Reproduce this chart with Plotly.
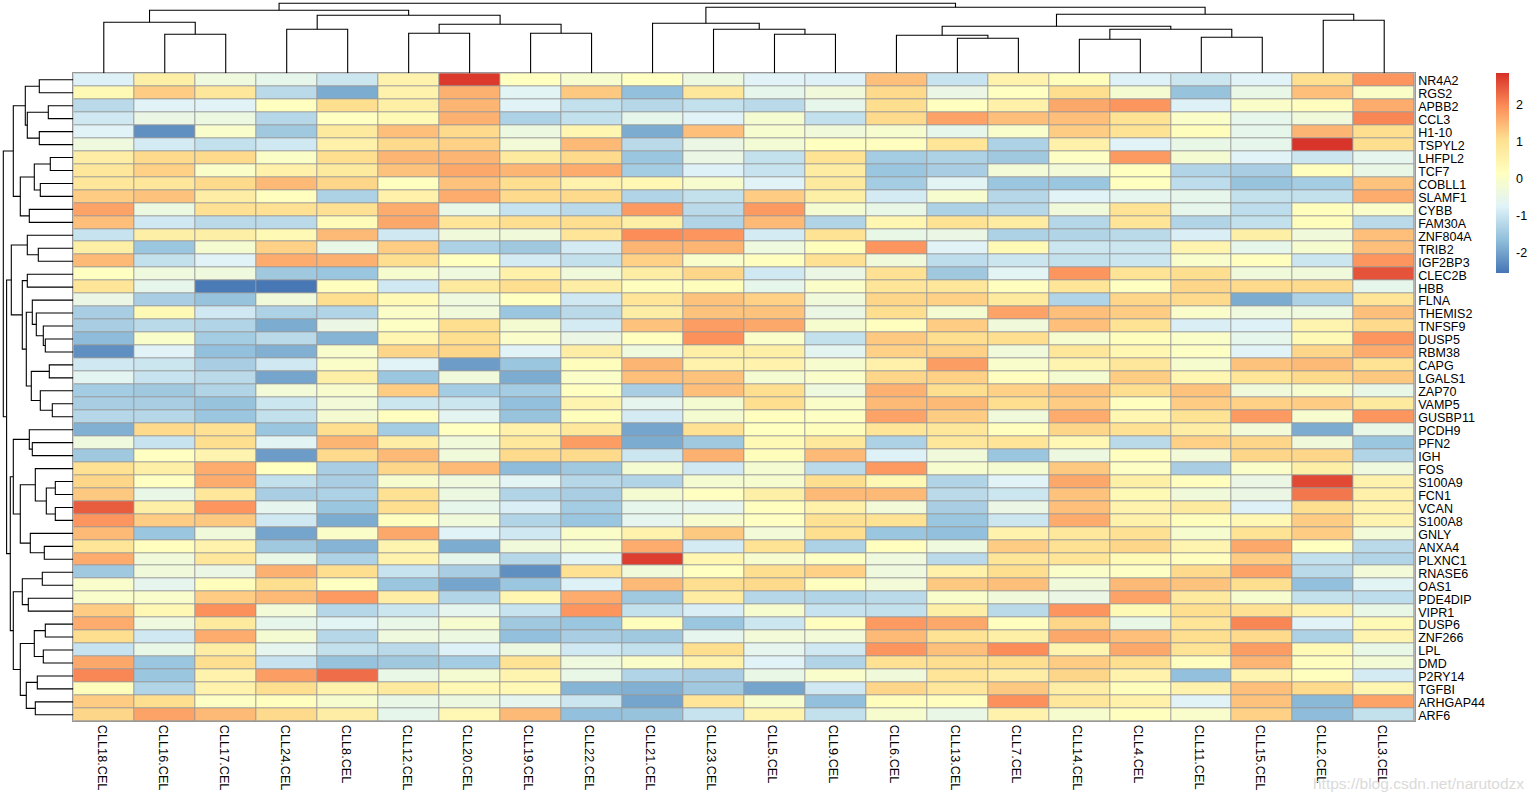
import plotly.graph_objects as go

samples = ["CLL18.CEL","CLL16.CEL","CLL17.CEL","CLL24.CEL","CLL8.CEL","CLL12.CEL","CLL20.CEL","CLL19.CEL","CLL22.CEL","CLL21.CEL","CLL23.CEL","CLL5.CEL","CLL9.CEL","CLL6.CEL","CLL13.CEL","CLL7.CEL","CLL14.CEL","CLL4.CEL","CLL11.CEL","CLL15.CEL","CLL2.CEL","CLL3.CEL"]
genes = ["NR4A2","RGS2","APBB2","CCL3","H1-10","TSPYL2","LHFPL2","TCF7","COBLL1","SLAMF1","CYBB","FAM30A","ZNF804A","TRIB2","IGF2BP3","CLEC2B","HBB","FLNA","THEMIS2","TNFSF9","DUSP5","RBM38","CAPG","LGALS1","ZAP70","VAMP5","GUSBP11","PCDH9","PFN2","IGH","FOS","S100A9","FCN1","VCAN","S100A8","GNLY","ANXA4","PLXNC1","RNASE6","OAS1","PDE4DIP","VIPR1","DUSP6","ZNF266","LPL","DMD","P2RY14","TGFBI","ARHGAP44","ARF6"]

NR4A2 = [-.8,.6,-.35,-.55,-1.0,.5,2.75,.13,-.1,.1,-.4,-.75,-.8,1.4,-1.05,.5,.2,-.8,-1.0,-.75,1.05,1.85]
RGS2 = [.3,1.25,.85,-1.2,-1.9,.5,1.55,-.7,1.3,-1.65,.85,-.55,-.3,1.1,-.45,.1,1.05,-.15,-1.6,-.5,1.4,.02]
APBB2 = [-1.2,-.75,-.75,.13,1.05,.6,1.5,-.75,-1.1,-1.25,-1.1,-1.2,-.55,1.05,.13,.55,1.65,1.85,-.8,0,.15,1.6]
CCL3 = [-.95,-.45,-.4,-1.25,.1,.3,1.55,-1.35,-1.1,-.55,-.75,-.15,-1.1,1.1,1.7,1.4,1.4,.95,0,-.55,-.3,2.0]
H1_10 = [-.75,-2.25,-.05,-1.5,.75,1.4,1.1,-.4,.4,-1.9,1.4,-.1,-.3,-.1,-.55,-.05,1.25,.95,.2,-.55,1.5,1.05]
TSPYL2 = [-.35,-.9,-1.1,-.95,.55,1.1,1.2,-.25,1.45,-1.2,-.45,-.2,.13,.15,.9,-1.35,.55,-.75,-.5,-.55,2.8,1.05]
LHFPL2 = [.65,1.1,1.1,.02,1.05,1.5,1.5,.75,1.1,-1.55,-.45,-1.1,.95,-1.45,-1.35,-1.5,.05,1.8,-.15,-.75,-1.0,-.6]
TCF7 = [.85,1.2,0,.55,.75,1.35,1.65,1.5,1.6,-1.45,-.8,-1.05,.7,-1.55,-1.4,-.25,-.25,.13,-1.3,-1.4,.15,-.5]
COBLL1 = [.85,.85,1.1,1.45,1.15,.13,1.35,1.05,.5,.35,-.1,-.75,.75,-1.45,-.7,-1.55,-1.55,.13,-1.15,-1.6,-1.45,1.35]
SLAMF1 = [1.25,1.35,.65,.15,-1.35,.55,1.6,1.1,1.1,-1.3,-1.1,1.25,.6,-.9,-.1,-1.25,-.75,-.6,-.55,-1.1,-1.1,1.6]
CYBB = [1.7,-.4,1.0,1.0,1.0,1.6,-.5,-1.05,-1.2,1.8,-1.2,1.8,-.15,-.5,-1.35,-1.25,-.3,.95,-.55,-1.15,.2,-.02]
FAM30A = [1.4,-.95,-1.2,-1.2,.25,1.65,.9,1.05,1.05,.6,-1.3,1.45,-1.3,.4,.95,.7,-1.25,.9,-1.3,-1.1,.2,-1.2]
ZNF804A = [-1.05,.6,.6,.3,1.45,-.95,-.3,-.3,.9,1.95,1.85,-.9,.95,-.5,-.45,-1.35,-1.3,-1.2,-.85,.6,-.3,1.4]
TRIB2 = [.6,-1.55,-.15,1.2,-.5,1.25,-1.35,-1.5,-.9,1.5,1.5,-.35,.2,1.85,-.75,.3,-1.0,-1.0,.45,-.55,-.1,1.4]
IGF2BP3 = [1.45,-1.1,-.75,1.6,1.55,1.05,.13,-.9,-1.1,1.2,-.05,.15,1.0,-.3,-1.15,-1.0,-1.1,-1.0,-.05,.15,-1.0,1.85]
CLEC2B = [.1,-.35,-.35,-1.5,-1.55,-.1,-.35,.55,-.3,.65,1.15,-.95,-.45,1.0,-1.5,-.7,1.85,.95,1.05,-.3,-.3,2.5]
HBB = [.9,-.55,-2.5,-2.55,.15,-.95,.75,1.05,.65,.15,.2,-.55,0,.9,.85,.15,.9,.1,1.15,1.1,1.1,-.55]
FLNA = [-.45,-1.4,-1.6,-.3,1.05,.3,-.35,.1,-.95,.9,1.35,1.2,-.3,1.15,1.2,.75,-1.3,1.15,1.1,-1.9,-1.35,.9]
THEMIS2 = [-1.4,.3,-.95,-1.35,-1.3,0,-.3,-1.55,-1.2,.65,1.35,1.35,-.45,1.05,-.15,1.7,1.4,1.25,-.02,-.35,-.35,1.4]
TNFSF9 = [-1.4,-1.2,-1.3,-1.9,-.45,.05,1.05,-.15,-.9,1.35,1.75,1.65,-.1,.15,1.25,-.3,1.4,.95,-.85,-.8,.45,1.1]
DUSP5 = [-1.7,-.03,-1.45,-1.2,-1.8,.4,1.05,-.02,-.45,.15,1.9,0,-1.1,1.3,1.05,1.05,-.1,.2,0,-.55,.3,1.85]
RBM38 = [-2.25,-.75,-1.65,-1.85,-.05,1.15,1.15,-.75,.65,-.35,.6,.6,-.65,1.2,1.2,-.3,.85,.4,.05,-.75,1.15,1.6]
CAPG = [-.95,-1.0,-1.4,-.95,0,-.75,-2.1,-1.55,.2,1.5,.5,.5,-.1,.55,1.75,-.05,.45,.85,-.1,1.35,1.45,.95]
LGALS1 = [-.65,-1.05,-1.2,-2.0,.6,-1.55,-.3,-1.9,0,1.4,1.35,-.15,-.02,1.15,1.2,.15,-.15,1.25,.4,.9,1.1,1.3]
ZAP70 = [-1.45,-1.5,-1.3,-.25,-.08,1.25,-1.45,-1.45,.1,-1.4,1.4,1.05,-.35,1.55,1.05,1.2,1.35,1.05,1.35,-.3,-.1,-.5]
VAMP5 = [-1.4,-1.4,-1.6,-1.0,-.25,-1.0,-1.0,-1.65,.45,-.6,-.15,1.05,0,1.45,1.45,1.05,1.25,.15,1.25,1.2,1.25,.75]
GUSBP11 = [-1.25,-1.25,-1.55,-1.1,-.15,.15,-.65,-1.6,.2,-.9,-.15,.15,.05,1.7,1.25,-.3,1.6,.4,.95,1.8,-.1,1.85]
PCDH9 = [-1.85,1.1,1.0,-1.55,1.05,-1.45,.1,.55,.8,-2.0,1.0,.13,.2,.9,.85,.15,1.15,1.0,.65,-.25,-1.9,-.5]
PFN2 = [-.35,-1.05,1.05,-.7,1.5,.65,-.3,.8,1.75,-1.9,-1.5,.3,.8,-1.35,.85,.9,.35,-1.2,1.2,1.15,-.3,-1.55]
IGH = [-1.5,.1,.45,-2.1,1.1,1.45,-.3,1.1,1.1,-1.0,1.55,.2,1.45,-.8,-.3,-1.55,-.4,.15,-.25,1.15,1.15,-1.3]
FOS = [1.0,.6,1.6,.13,-1.4,1.15,1.45,-1.7,-1.5,-.15,-.95,-.15,-1.2,1.8,-.1,-.15,1.3,.05,-1.4,0,.6,-.35]
S100A9 = [1.15,.1,1.6,-1.1,-1.4,-.1,-.35,-.7,-1.25,-1.3,-.15,-.1,1.05,.35,-1.3,-.75,1.65,.6,.15,-.45,2.6,.5]
FCN1 = [1.3,-.5,.85,-1.4,-1.35,1.0,-.4,-1.3,-1.4,-.15,.1,.6,1.45,1.45,-1.2,-1.0,1.35,.3,-.3,-.45,2.15,.55]
VCAN = [2.4,.6,1.85,-.6,-1.55,1.05,-.55,-.85,-1.45,-.55,-.6,.15,.55,-.25,-1.4,-.45,1.4,.5,.75,-.8,1.05,.5]
S100A8 = [1.85,1.25,1.3,-.95,-1.9,.15,-.3,-1.3,-1.55,-.6,-.1,.1,1.0,.95,-1.55,-1.0,1.6,.55,.2,.35,1.25,.45]
GNLY = [1.45,-1.55,-.3,-2.0,0,1.65,-.75,-.95,0,.5,1.3,-.25,1.05,-1.55,-1.65,.5,.8,1.0,-.1,.95,1.25,-.25]
ANXA4 = [.9,.15,.5,-1.5,-1.8,.45,-1.9,-.3,-.1,1.6,-.9,.95,-1.35,.15,-.35,1.25,1.0,1.15,.45,1.65,.13,-1.2]
PLXNC1 = [1.6,-.3,.85,-.5,-1.35,.5,-.55,-1.25,-.7,2.7,.4,-.1,.05,-.35,-1.2,.9,.9,.3,.15,1.25,-1.1,-1.3]
RNASE6 = [-1.5,-.3,-.45,1.55,1.05,-1.05,-1.4,-2.25,1.0,-.3,.1,1.05,1.2,-.35,.55,1.05,0,.05,1.1,1.7,-1.2,-.25]
OAS1 = [-.05,-.6,.2,1.05,.1,-1.55,-2.0,-1.55,-.8,1.45,1.05,1.1,.15,-.25,1.3,1.4,-.3,1.45,1.35,1.05,-1.65,-.7]
PDE4DIP = [-.05,-.05,1.25,1.45,1.8,.65,-1.3,.4,1.6,-1.5,.7,-1.25,-1.3,-1.2,-.05,-.3,-.45,1.7,.75,-.1,-1.1,-1.15]
VIPR1 = [1.25,.35,1.9,-.25,-1.25,-1.0,-.6,-1.05,1.85,-1.1,-.85,-.1,-1.05,-1.1,.6,-1.2,1.85,.3,1.05,1.0,.5,-.5]
DUSP6 = [1.6,-.35,.75,-.55,-.7,-.5,-.1,-1.5,-1.55,.2,-1.55,-1.0,.15,1.8,1.65,.15,1.15,-.5,.9,2.0,-.75,.3]
ZNF266 = [1.05,-.95,1.6,-.15,-1.25,-.35,-.4,-1.65,-1.4,-1.5,-.6,-.25,-.25,1.45,.95,.6,1.65,1.4,1.05,1.1,-1.35,.45]
LPL = [-1.05,-.5,.65,-.6,-1.1,-1.2,-.8,-.4,-.95,-1.1,1.05,-.6,-.95,1.85,1.4,1.95,.45,1.65,.95,1.75,.3,-.5]
DMD = [1.65,-1.55,1.05,-1.05,-1.6,-1.5,-1.45,.95,-.35,0,.5,-.75,-1.3,1.0,1.05,1.05,1.25,1.05,.15,1.5,.15,-.2]
P2RY14 = [2.0,-1.55,.5,1.75,2.25,-.5,-.15,.45,-.5,-1.3,-1.4,-.5,-.05,-.3,.9,.65,1.15,.5,-1.65,.45,.15,-.9]
TGFBI = [.2,-1.3,.5,1.05,.5,.75,.35,.35,-1.8,-1.85,-1.5,-2.0,-.95,1.15,.85,1.3,.65,.2,.5,1.4,1.1,.4]
ARHGAP44 = [1.25,1.05,.05,.15,-.1,-.5,-.4,-.6,-1.0,-2.0,.9,-.1,-1.65,.2,.15,1.9,.85,.55,-.75,1.35,-1.75,1.7]
ARF6 = [1.15,1.7,1.45,1.1,.65,-.55,.35,1.45,-1.65,-1.6,-1.05,.45,-1.1,-.1,-.5,.5,-.1,.15,-.05,1.2,-1.7,-1.1]

matrix = [NR4A2,RGS2,APBB2,CCL3,H1_10,TSPYL2,LHFPL2,TCF7,COBLL1,SLAMF1,CYBB,FAM30A,ZNF804A,TRIB2,IGF2BP3,CLEC2B,HBB,FLNA,THEMIS2,TNFSF9,DUSP5,RBM38,CAPG,LGALS1,ZAP70,VAMP5,GUSBP11,PCDH9,PFN2,IGH,FOS,S100A9,FCN1,VCAN,S100A8,GNLY,ANXA4,PLXNC1,RNASE6,OAS1,PDE4DIP,VIPR1,DUSP6,ZNF266,LPL,DMD,P2RY14,TGFBI,ARHGAP44,ARF6]

# Dendrogram merges: child ids < n are leaves, ids >= n are earlier merges
col_left = [1,0,3,5,7,25,24,23,11,10,9,14,13,16,18,35,34,20,38,32,29]
col_right = [2,22,4,6,8,26,27,28,12,30,31,15,33,17,19,36,37,21,39,40,41]
col_height = [39,51,44,40,40,49,58,63,39,44,50,35,38,34,36,44,47,53,59,66,70]

row_left = [0,2,4,51,50,6,8,55,10,57,54,13,12,15,20,19,18,17,22,25,24,68,67,63,62,28,27,31,33,77,30,36,35,80,76,38,40,85,42,44,88,46,48,91,90,87,84,74,60]
row_right = [1,3,5,52,53,7,9,56,11,58,59,14,61,16,21,64,65,66,23,26,69,70,71,72,73,29,75,32,34,78,79,37,81,82,83,39,41,86,43,45,89,47,49,92,93,94,95,96,97]
row_height = [34,25,34,46,48,23,33,39,44,53,60,35,46,46,28,30,37,41,24,21,33,42,47,51,62,41,44,18,18,27,38,29,43,53,60,31,45,51,28,30,39,36,38,47,53,60,63,66.7,70]

palette = ["#4575B4","#91BFDB","#E0F3F8","#FFFFBF","#FEE090","#FC8D59","#D73027"]
Z_MIN, Z_MAX = -2.57, 2.84
W, H = 1536, 801
LEFT, RIGHT, TOP, BOTTOM = 73.3, 1414.7, 73.3, 721.3


def dendro(left, right, height, n):
    pos = {i: (float(i), 0.0) for i in range(n)}
    along, up = [], []
    for k, (a, b, h) in enumerate(zip(left, right, height)):
        pa, ha = pos[a]
        pb, hb = pos[b]
        along += [pa, pa, pb, pb, None]
        up += [ha, h, h, hb, None]
        pos[n + k] = ((pa + pb) / 2, h)
    return along, up


fig = go.Figure()
fig.add_trace(go.Heatmap(
    z=matrix, x=list(range(len(samples))), y=list(range(len(genes))),
    zmin=Z_MIN, zmax=Z_MAX, xgap=1, ygap=1,
    colorscale=[[i / 6, c] for i, c in enumerate(palette)],
    colorbar=dict(
        thickness=13, thicknessmode="pixels", len=200, lenmode="pixels",
        x=1496 / W, xanchor="left", y=1 - TOP / H, yanchor="top", xpad=0, ypad=0,
        outlinewidth=0, tickvals=[-2, -1, 0, 1, 2], ticktext=["-2", "-1", "0", "1", "2"],
        ticks="outside", ticklen=5, tickcolor="rgba(0,0,0,0)",
        tickfont=dict(family="Liberation Sans", size=12.5, color="#000000"),
    ),
    xaxis="x", yaxis="y",
))

cx, cy = dendro(col_left, col_right, col_height, len(samples))
fig.add_trace(go.Scatter(x=cx, y=cy, mode="lines", line=dict(color="#000000", width=1.1),
                         xaxis="x2", yaxis="y2", showlegend=False, hoverinfo="skip"))
ry, rx = dendro(row_left, row_right, row_height, len(genes))
fig.add_trace(go.Scatter(x=rx, y=ry, mode="lines", line=dict(color="#000000", width=1.1),
                         xaxis="x3", yaxis="y3", showlegend=False, hoverinfo="skip"))

dx = [LEFT / W, RIGHT / W]
dy = [1 - BOTTOM / H, 1 - TOP / H]
hidden = dict(showgrid=False, zeroline=False, showticklabels=False, ticks="", automargin=False)
fig.update_layout(
    width=W, height=H, autosize=False, margin=dict(l=0, r=0, t=0, b=0),
    paper_bgcolor="#FFFFFF", plot_bgcolor="#FFFFFF", showlegend=False,
    font=dict(family="Liberation Sans", size=12.5, color="#000000"),
    shapes=[dict(type="rect", xref="x domain", yref="y domain", x0=0, x1=1, y0=0, y1=1,
                 fillcolor="#999999", line=dict(width=0), layer="below")],
    xaxis=dict(domain=dx, range=[-0.5, len(samples) - 0.5], tickmode="array",
               tickvals=list(range(len(samples))), ticktext=samples, tickangle=90,
               ticks="", ticklabelshift=-2, showgrid=False, zeroline=False, automargin=False,
               showline=True, linecolor="#999999", linewidth=1, mirror=True,
               tickfont=dict(size=12.7)),
    yaxis=dict(domain=dy, range=[len(genes) - 0.5, -0.5], side="right", tickmode="array",
               tickvals=list(range(len(genes))), ticktext=genes,
               ticks="", ticklabelshift=-1, showgrid=False, zeroline=False, automargin=False,
               showline=True, linecolor="#999999", linewidth=1, mirror=True,
               tickfont=dict(size=12.5)),
    xaxis2=dict(domain=dx, range=[-0.5, len(samples) - 0.5], anchor="y2", **hidden),
    yaxis2=dict(domain=[dy[1], 1], range=[0, TOP], anchor="x2", **hidden),
    xaxis3=dict(domain=[0, LEFT / W], range=[LEFT, 0], anchor="y3", **hidden),
    yaxis3=dict(domain=dy, range=[len(genes) - 0.5, -0.5], anchor="x3", **hidden),
    annotations=[dict(text="https://blog.csdn.net/narutodzx", xref="paper", yref="paper",
                      x=1526 / W, y=1 - 783 / H, xanchor="right", yanchor="middle", showarrow=False,
                      font=dict(family="Liberation Sans", size=15.5, color="#DADADA"))],
)

fig.write_html("out.html", config=dict(displayModeBar=False),
               post_script="document.body.style.margin='0';document.documentElement.style.overflow='hidden';")
